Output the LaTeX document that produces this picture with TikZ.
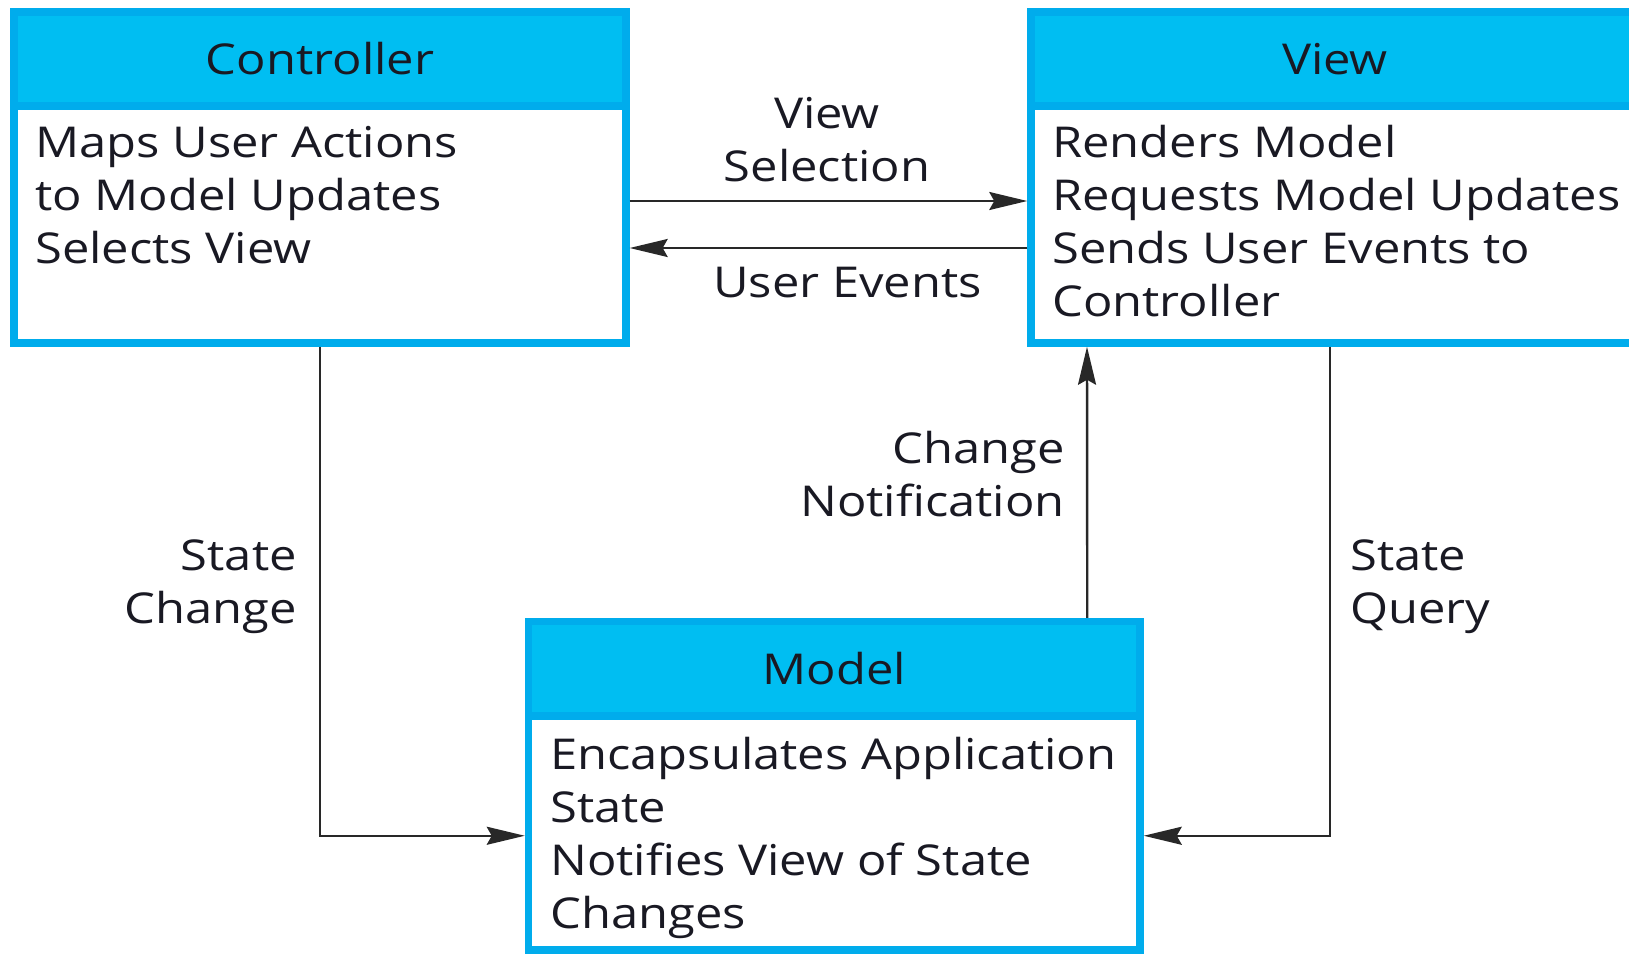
\documentclass[tikz,border=0pt]{standalone}
\usepackage{fontspec}
\setmainfont{Open Sans}[FakeStretch=1.15]
\usetikzlibrary{arrows.meta}

\definecolor{mvcedge}{RGB}{0,172,236}
\definecolor{mvchead}{RGB}{0,190,242}
\definecolor{mvcline}{RGB}{40,40,40}
\definecolor{mvctext}{RGB}{25,25,35}
\newcommand{\mvcfont}{\fontsize{42.5}{53}\selectfont}

\tikzset{
  boxframe/.style={draw=mvcedge, line width=7.5pt, fill=white},
  boxhead/.style={draw=mvcedge, line width=7.5pt, fill=mvchead, text=mvctext, font=\mvcfont},
  boxtext/.style={anchor=base west, align=left, inner sep=0pt, text=mvctext, font=\mvcfont},
  flowlabel/.style={inner sep=0pt, text=mvctext, font=\mvcfont},
  flow/.style={draw=mvcline, line width=2.4pt, -{Stealth[length=38pt, width=18pt, inset=5pt]}},
}

\begin{document}
\begin{tikzpicture}[x=1pt, y=-1pt]
  \useasboundingbox (0,0) rectangle (1629,953);

  % Controller
  \node[boxframe, minimum width=611.8pt, minimum height=331pt] (ctrl) at (320,177.5) {};
  \node[boxhead, minimum width=611.8pt, minimum height=94pt] (ctrlhead) at (320,59) {Controller};
  \node[boxtext] (ctrltext) at (35,263) {Maps User Actions\\to Model Updates\\Selects View};

  % View (runs past the right edge)
  \node[boxframe, minimum width=608pt, minimum height=331pt] (view) at (1335,177.5) {};
  \node[boxhead, minimum width=608pt, minimum height=94pt] (viewhead) at (1335,59) {View};
  \node[boxtext] (viewtext) at (1052,316) {Renders Model\\Requests Model Updates\\Sends User Events to\\Controller};

  % Model
  \node[boxframe, minimum width=611.5pt, minimum height=328.5pt] (model) at (834.25,785.75) {};
  \node[boxhead, minimum width=611.5pt, minimum height=94.5pt] (modelhead) at (834.25,668.75) {Model};
  \node[boxtext] (modeltext) at (550,928) {Encapsulates Application\\State\\Notifies View of State\\Changes};

  % Verbindungen
  \draw[flow] ([yshift=-23.5pt]ctrl.east) -- ([yshift=-23.5pt]view.west);
  \draw[flow] ([yshift=-70.5pt]view.west) -- ([yshift=-70.5pt]ctrl.east);
  \draw[flow] ([xshift=253pt]model.north) -- ([xshift=-248pt]view.south);
  \draw[flow] (ctrl.south) |- ([yshift=-50pt]model.west);
  \draw[flow] ([xshift=-5pt]view.south) |- ([yshift=-50pt]model.east);

  % Beschriftungen
  \node[flowlabel, align=center, anchor=base] (sellabel) at (827,181) {View\\Selection};
  \node[flowlabel, anchor=base] (evtlabel) at (847.5,297) {User Events};
  \node[flowlabel, align=right, anchor=base east] (notelabel) at (1065,516) {Change\\Notification};
  \node[flowlabel, align=right, anchor=base east] (chglabel) at (297,623) {State\\Change};
  \node[flowlabel, align=left, anchor=base west] (qrylabel) at (1350,623) {State\\Query};
\end{tikzpicture}
\end{document}
